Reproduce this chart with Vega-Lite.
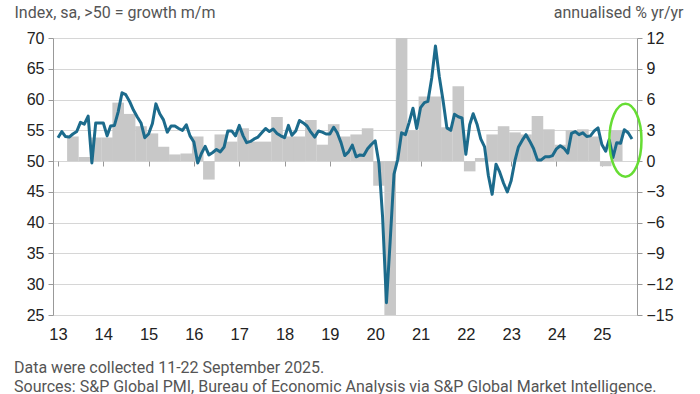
{
  "$schema": "https://vega.github.io/schema/vega-lite/v6.json",
  "width": 584,
  "height": 277,
  "autosize": {"type": "none"},
  "padding": {"left": 53, "top": 38, "right": 63, "bottom": 79},
  "background": "white",
  "config": {"view": {"stroke": null}, "font": "Liberation Sans"},
  "title": {
    "text": ["Data were collected 11-22 September 2025.", "Sources: S&P Global PMI, Bureau of Economic Analysis via S&P Global Market Intelligence."],
    "orient": "bottom", "anchor": "start", "frame": "group", "dx": -39, "offset": 17,
    "font": "Roboto", "fontSize": 16, "fontWeight": "normal", "color": "#555555", "lineHeight": 19
  },
  "datasets": {
    "gdp": [
      {"d": "2013-05-01", "g": 2.4}, {"d": "2013-08-01", "g": 0.4}, {"d": "2013-11-01", "g": 2.3},
      {"d": "2014-02-01", "g": 2.3}, {"d": "2014-05-01", "g": 5.7}, {"d": "2014-08-01", "g": 4.6}, {"d": "2014-11-01", "g": 3.4},
      {"d": "2015-02-01", "g": 2.7}, {"d": "2015-05-01", "g": 1.4}, {"d": "2015-08-01", "g": 0.65}, {"d": "2015-11-01", "g": 0.75},
      {"d": "2016-02-01", "g": 2.4}, {"d": "2016-05-01", "g": -1.8}, {"d": "2016-08-01", "g": 2.6}, {"d": "2016-11-01", "g": 1.9},
      {"d": "2017-02-01", "g": 3.2}, {"d": "2017-05-01", "g": 1.9}, {"d": "2017-08-01", "g": 1.9}, {"d": "2017-11-01", "g": 4.3},
      {"d": "2018-02-01", "g": 2.4}, {"d": "2018-05-01", "g": 2.4}, {"d": "2018-08-01", "g": 4.0}, {"d": "2018-11-01", "g": 1.6},
      {"d": "2019-02-01", "g": 3.6}, {"d": "2019-05-01", "g": 2.4}, {"d": "2019-08-01", "g": 2.6}, {"d": "2019-11-01", "g": 3.2},
      {"d": "2020-02-01", "g": -2.4}, {"d": "2020-05-01", "g": -28}, {"d": "2020-08-01", "g": 35}, {"d": "2020-11-01", "g": 3.0},
      {"d": "2021-02-01", "g": 6.3}, {"d": "2021-05-01", "g": 6.3}, {"d": "2021-08-01", "g": 3.3}, {"d": "2021-11-01", "g": 7.3},
      {"d": "2022-02-01", "g": -1.0}, {"d": "2022-05-01", "g": 0.3}, {"d": "2022-08-01", "g": 2.6}, {"d": "2022-11-01", "g": 3.4},
      {"d": "2023-02-01", "g": 2.8}, {"d": "2023-05-01", "g": 2.6}, {"d": "2023-08-01", "g": 4.4}, {"d": "2023-11-01", "g": 3.1},
      {"d": "2024-02-01", "g": 1.6}, {"d": "2024-05-01", "g": 3.0}, {"d": "2024-08-01", "g": 3.1}, {"d": "2024-11-01", "g": 2.4},
      {"d": "2025-02-01", "g": -0.5}, {"d": "2025-05-01", "g": 3.0}
    ],
    "pmi": [
      {"d": "2013-01-01", "v": 53.8}, {"d": "2013-02-01", "v": 54.8}, {"d": "2013-03-01", "v": 54.0}, {"d": "2013-04-01", "v": 53.9},
      {"d": "2013-05-01", "v": 54.4}, {"d": "2013-06-01", "v": 54.8}, {"d": "2013-07-01", "v": 56.3}, {"d": "2013-08-01", "v": 56.0},
      {"d": "2013-09-01", "v": 57.3}, {"d": "2013-10-01", "v": 49.7}, {"d": "2013-11-01", "v": 56.2}, {"d": "2013-12-01", "v": 56.2},
      {"d": "2014-01-01", "v": 56.2}, {"d": "2014-02-01", "v": 54.1}, {"d": "2014-03-01", "v": 55.7}, {"d": "2014-04-01", "v": 55.8},
      {"d": "2014-05-01", "v": 58.0}, {"d": "2014-06-01", "v": 61.1}, {"d": "2014-07-01", "v": 60.8}, {"d": "2014-08-01", "v": 59.7},
      {"d": "2014-09-01", "v": 58.3}, {"d": "2014-10-01", "v": 57.2}, {"d": "2014-11-01", "v": 56.2}, {"d": "2014-12-01", "v": 53.8},
      {"d": "2015-01-01", "v": 54.4}, {"d": "2015-02-01", "v": 56.1}, {"d": "2015-03-01", "v": 59.3}, {"d": "2015-04-01", "v": 57.7},
      {"d": "2015-05-01", "v": 56.7}, {"d": "2015-06-01", "v": 54.7}, {"d": "2015-07-01", "v": 55.7}, {"d": "2015-08-01", "v": 55.7},
      {"d": "2015-09-01", "v": 55.3}, {"d": "2015-10-01", "v": 55.0}, {"d": "2015-11-01", "v": 55.9}, {"d": "2015-12-01", "v": 54.1},
      {"d": "2016-01-01", "v": 53.1}, {"d": "2016-02-01", "v": 49.7}, {"d": "2016-03-01", "v": 51.2}, {"d": "2016-04-01", "v": 52.4},
      {"d": "2016-05-01", "v": 51.0}, {"d": "2016-06-01", "v": 51.4}, {"d": "2016-07-01", "v": 51.9}, {"d": "2016-08-01", "v": 51.5},
      {"d": "2016-09-01", "v": 52.3}, {"d": "2016-10-01", "v": 54.9}, {"d": "2016-11-01", "v": 54.9}, {"d": "2016-12-01", "v": 54.1},
      {"d": "2017-01-01", "v": 55.8}, {"d": "2017-02-01", "v": 54.1}, {"d": "2017-03-01", "v": 53.0}, {"d": "2017-04-01", "v": 53.2},
      {"d": "2017-05-01", "v": 53.6}, {"d": "2017-06-01", "v": 53.9}, {"d": "2017-07-01", "v": 54.6}, {"d": "2017-08-01", "v": 55.3},
      {"d": "2017-09-01", "v": 54.8}, {"d": "2017-10-01", "v": 55.2}, {"d": "2017-11-01", "v": 54.5}, {"d": "2017-12-01", "v": 54.1},
      {"d": "2018-01-01", "v": 53.8}, {"d": "2018-02-01", "v": 55.8}, {"d": "2018-03-01", "v": 54.2}, {"d": "2018-04-01", "v": 54.9},
      {"d": "2018-05-01", "v": 56.6}, {"d": "2018-06-01", "v": 56.2}, {"d": "2018-07-01", "v": 55.7}, {"d": "2018-08-01", "v": 54.7},
      {"d": "2018-09-01", "v": 53.9}, {"d": "2018-10-01", "v": 54.9}, {"d": "2018-11-01", "v": 54.7}, {"d": "2018-12-01", "v": 54.4},
      {"d": "2019-01-01", "v": 54.4}, {"d": "2019-02-01", "v": 55.5}, {"d": "2019-03-01", "v": 54.6}, {"d": "2019-04-01", "v": 53.0},
      {"d": "2019-05-01", "v": 50.9}, {"d": "2019-06-01", "v": 51.5}, {"d": "2019-07-01", "v": 52.6}, {"d": "2019-08-01", "v": 50.7},
      {"d": "2019-09-01", "v": 51.0}, {"d": "2019-10-01", "v": 50.9}, {"d": "2019-11-01", "v": 52.0}, {"d": "2019-12-01", "v": 52.7},
      {"d": "2020-01-01", "v": 53.3}, {"d": "2020-02-01", "v": 49.6}, {"d": "2020-03-01", "v": 40.9}, {"d": "2020-04-01", "v": 27.0},
      {"d": "2020-05-01", "v": 37.0}, {"d": "2020-06-01", "v": 47.9}, {"d": "2020-07-01", "v": 50.3}, {"d": "2020-08-01", "v": 54.6},
      {"d": "2020-09-01", "v": 54.3}, {"d": "2020-10-01", "v": 56.3}, {"d": "2020-11-01", "v": 58.6}, {"d": "2020-12-01", "v": 55.3},
      {"d": "2021-01-01", "v": 58.7}, {"d": "2021-02-01", "v": 59.5}, {"d": "2021-03-01", "v": 59.7}, {"d": "2021-04-01", "v": 63.5},
      {"d": "2021-05-01", "v": 68.7}, {"d": "2021-06-01", "v": 63.7}, {"d": "2021-07-01", "v": 59.9}, {"d": "2021-08-01", "v": 55.4},
      {"d": "2021-09-01", "v": 55.0}, {"d": "2021-10-01", "v": 57.6}, {"d": "2021-11-01", "v": 57.2}, {"d": "2021-12-01", "v": 57.0},
      {"d": "2022-01-01", "v": 51.1}, {"d": "2022-02-01", "v": 55.9}, {"d": "2022-03-01", "v": 57.7}, {"d": "2022-04-01", "v": 56.0},
      {"d": "2022-05-01", "v": 53.6}, {"d": "2022-06-01", "v": 52.3}, {"d": "2022-07-01", "v": 47.7}, {"d": "2022-08-01", "v": 44.6},
      {"d": "2022-09-01", "v": 49.5}, {"d": "2022-10-01", "v": 48.2}, {"d": "2022-11-01", "v": 46.4}, {"d": "2022-12-01", "v": 45.0},
      {"d": "2023-01-01", "v": 46.8}, {"d": "2023-02-01", "v": 50.1}, {"d": "2023-03-01", "v": 52.3}, {"d": "2023-04-01", "v": 53.4},
      {"d": "2023-05-01", "v": 54.3}, {"d": "2023-06-01", "v": 53.2}, {"d": "2023-07-01", "v": 52.0}, {"d": "2023-08-01", "v": 50.2},
      {"d": "2023-09-01", "v": 50.2}, {"d": "2023-10-01", "v": 50.7}, {"d": "2023-11-01", "v": 50.7}, {"d": "2023-12-01", "v": 50.9},
      {"d": "2024-01-01", "v": 52.0}, {"d": "2024-02-01", "v": 52.5}, {"d": "2024-03-01", "v": 52.1}, {"d": "2024-04-01", "v": 51.3},
      {"d": "2024-05-01", "v": 54.5}, {"d": "2024-06-01", "v": 54.8}, {"d": "2024-07-01", "v": 54.3}, {"d": "2024-08-01", "v": 54.6},
      {"d": "2024-09-01", "v": 54.0}, {"d": "2024-10-01", "v": 54.1}, {"d": "2024-11-01", "v": 54.9}, {"d": "2024-12-01", "v": 55.4},
      {"d": "2025-01-01", "v": 52.7}, {"d": "2025-02-01", "v": 51.6}, {"d": "2025-03-01", "v": 53.5}, {"d": "2025-04-01", "v": 50.6},
      {"d": "2025-05-01", "v": 53.0}, {"d": "2025-06-01", "v": 52.9}, {"d": "2025-07-01", "v": 55.1}, {"d": "2025-08-01", "v": 54.6},
      {"d": "2025-09-01", "v": 53.6}
    ],
    "ring": [{"d": "2025-07-10", "v": 53.4}]
  },
  "layer": [
    {
      "data": {"name": "gdp"},
      "mark": {"type": "bar", "clip": true, "color": "#c8c8c8", "size": 11.6},
      "encoding": {
        "x": {
          "field": "d", "type": "temporal",
          "scale": {"type": "utc", "domain": [{"year": 2013, "month": 1, "date": 1, "utc": true}, {"year": 2025, "month": 9, "date": 1, "utc": true}]},
          "axis": {"title": null, "labelExpr": "utcFormat(datum.value, '%y')", "tickCount": {"interval": "year", "step": 1},
                   "ticks": false, "tickSize": 0, "domain": false, "grid": false, "labelFlush": false, "labelOverlap": false,
                   "labelFontSize": 16.5, "labelColor": "#222222", "labelPadding": 11}
        },
        "y": {
          "field": "g", "type": "quantitative", "stack": null,
          "scale": {"domain": [-15, 12], "nice": false, "zero": false},
          "axis": {"orient": "right", "values": [-15, -12, -9, -6, -3, 0, 3, 6, 9, 12], "grid": false,
                   "domainColor": "#999999", "tickColor": "#999999", "tickSize": 5, "labelFontSize": 16, "labelColor": "#222222", "labelPadding": 4,
                   "title": "annualised % yr/yr", "titleAngle": 0, "titleAlign": "right", "titleBaseline": "alphabetic",
                   "titleX": 46, "titleY": -21, "titleFont": "Roboto", "titleFontSize": 16, "titleFontWeight": "normal", "titleColor": "#555555"}
        }
      }
    },
    {
      "data": {"name": "pmi"},
      "mark": {"type": "line", "color": "#1c6b8c", "strokeWidth": 3, "strokeJoin": "round", "clip": true},
      "encoding": {
        "x": {
          "field": "d", "type": "temporal",
          "axis": {"orient": "bottom", "offset": -154, "labels": false, "domain": false, "grid": false, "ticks": true,
                   "tickSize": 5, "tickColor": "#999999", "title": null, "tickCount": {"interval": "year", "step": 1}}
        },
        "y": {
          "field": "v", "type": "quantitative",
          "scale": {"domain": [25, 70], "nice": false, "zero": false},
          "axis": {"orient": "left", "values": [25, 30, 35, 40, 45, 50, 55, 60, 65, 70], "grid": true, "gridColor": "#d6d6d6",
                   "domainColor": "#999999", "tickColor": "#999999", "tickSize": 5, "labelFontSize": 16, "labelColor": "#222222", "labelPadding": 4,
                   "title": "Index, sa, >50 = growth m/m", "titleAngle": 0, "titleAlign": "left", "titleBaseline": "alphabetic",
                   "titleX": -39, "titleY": -21, "titleFont": "Roboto", "titleFontSize": 16, "titleFontWeight": "normal", "titleColor": "#555555"}
        }
      }
    },
    {
      "data": {"name": "ring"},
      "mark": {"type": "point", "shape": "M0,-1A0.44,1,0,1,1,0,1A0.44,1,0,1,1,0,-1Z", "size": 5329, "filled": false,
               "stroke": "#66dd33", "strokeWidth": 2.5, "opacity": 1},
      "encoding": {
        "x": {"field": "d", "type": "temporal", "axis": null},
        "y": {"field": "v", "type": "quantitative", "scale": {"domain": [25, 70], "nice": false, "zero": false}, "axis": null}
      }
    }
  ],
  "resolve": {"scale": {"y": "independent"}, "axis": {"x": "independent"}}
}
